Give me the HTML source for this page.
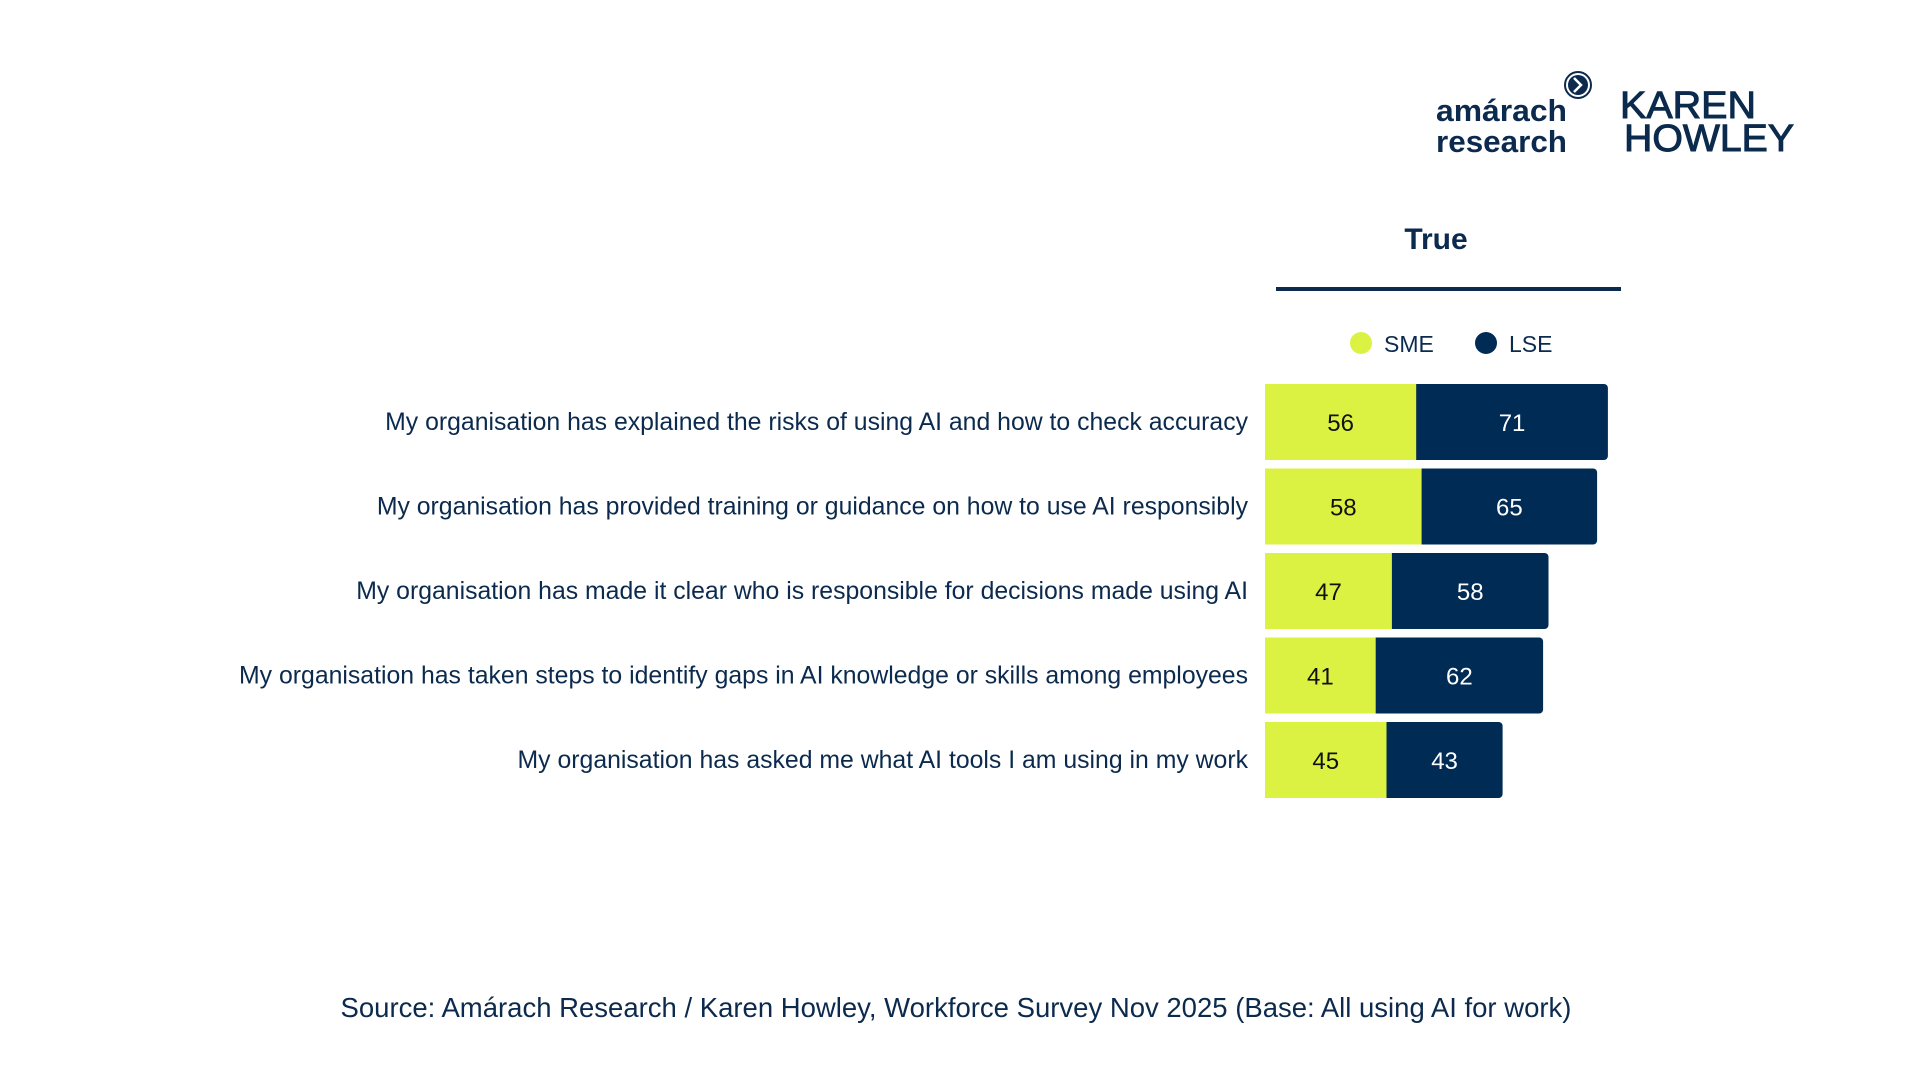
<!DOCTYPE html>
<html><head><meta charset="utf-8"><style>
html,body{margin:0;padding:0;background:#fff;}
svg{display:block;font-family:"Liberation Sans",sans-serif;}
</style></head><body>
<svg id="chart" width="1920" height="1080" viewBox="0 0 1920 1080">
  <g>
    <text x="1436" y="121" font-size="31" font-weight="bold" fill="#0b2a4d" textLength="131" lengthAdjust="spacingAndGlyphs">amárach</text>
    <text x="1436" y="152" font-size="31" font-weight="bold" fill="#0b2a4d" textLength="131" lengthAdjust="spacingAndGlyphs">research</text>
    <circle cx="1578" cy="85" r="13" fill="#fff" stroke="#0b2a4d" stroke-width="2"/>
    <circle cx="1578" cy="85" r="10" fill="#0b2a4d"/>
    <path d="M1574 78 L1581 85 L1574 92" fill="none" stroke="#fff" stroke-width="2.5"/>
  </g>
  <g>
    <text x="1620" y="118" font-size="38" fill="#0b2a4d" stroke="#0b2a4d" stroke-width="1" textLength="136" lengthAdjust="spacingAndGlyphs">KAREN</text>
    <text x="1624" y="151" font-size="38" fill="#0b2a4d" stroke="#0b2a4d" stroke-width="1" textLength="170" lengthAdjust="spacingAndGlyphs">HOWLEY</text>
  </g>
  <text x="1436" y="249" text-anchor="middle" font-size="30" font-weight="bold" fill="#0b2a4d">True</text>
  <rect x="1276" y="287" width="345" height="4" fill="#0b2a4d"/>
  <g>
    <g>
      <circle cx="1361" cy="343" r="11" fill="#dcf243"/>
      <text x="1384" y="352" font-size="23" fill="#0b2a4d">SME</text>
    </g>
    <g>
      <circle cx="1486" cy="343" r="11" fill="#002b54"/>
      <text x="1509" y="352" font-size="23" fill="#0b2a4d">LSE</text>
    </g>
  </g>
  <g id="bars"></g>
  <text x="956" y="1017" text-anchor="middle" font-size="27.5" fill="#0b2a4d">Source: Amárach Research / Karen Howley, Workforce Survey Nov 2025 (Base: All using AI for work)</text>
</svg>
<script>
const categories = [
  "My organisation has explained the risks of using AI and how to check accuracy",
  "My organisation has provided training or guidance on how to use AI responsibly",
  "My organisation has made it clear who is responsible for decisions made using AI",
  "My organisation has taken steps to identify gaps in AI knowledge or skills among employees",
  "My organisation has asked me what AI tools I am using in my work"
];
const smeValues = [56, 58, 47, 41, 45];
const lseValues = [71, 65, 58, 62, 43];

const NS = "http://www.w3.org/2000/svg";
const x0 = 1265, k = 2.70, top0 = 384, pitch = 84.5, barH = 76;
const xs = v => v * k;
const ys = i => top0 + i * pitch;
const g = document.getElementById("bars");
function mk(tag, attrs) {
  const e = document.createElementNS(NS, tag);
  for (const a in attrs) e.setAttribute(a, attrs[a]);
  return e;
}
categories.forEach((c, i) => {
  const y = ys(i), cy = y + barH / 2;
  const lab = mk("text", {x: 1248, y: cy + 8, "text-anchor": "end", "font-size": 24.8, fill: "#0b2a4d"});
  
  
  lab.textContent = c;
  g.appendChild(lab);
  const w1 = xs(smeValues[i]), w2 = xs(lseValues[i]);
  const b2 = mk("rect", {x: x0 + w1 - 6, y: y, width: w2 + 6, height: barH, rx: 4, fill: "#002b54"});
  
  
  g.appendChild(b2);
  const b1 = mk("rect", {x: x0, y: y, width: w1, height: barH, fill: "#dcf243"});
  
  
  g.appendChild(b1);
  const t1 = mk("text", {x: x0 + w1 / 2, y: cy + 9, "text-anchor": "middle", "font-size": 24, fill: "#111"});
  
  
  t1.textContent = smeValues[i];
  g.appendChild(t1);
  const t2 = mk("text", {x: x0 + w1 + w2 / 2, y: cy + 9, "text-anchor": "middle", "font-size": 24, fill: "#fff"});
  
  
  t2.textContent = lseValues[i];
  g.appendChild(t2);
});
</script>
</body></html>
